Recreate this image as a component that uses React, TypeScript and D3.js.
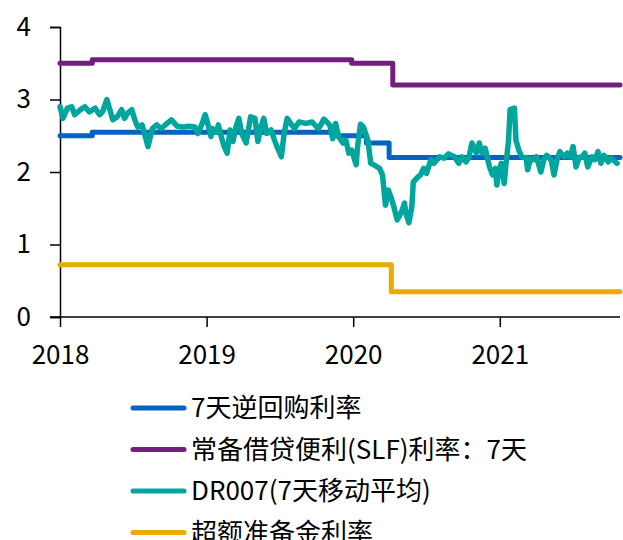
import React, { useEffect, useRef } from 'react'
import * as d3 from 'd3'

// 政策利率走廊与DR007
const W = 623
const H = 540

// 时间用小数年份表示
const reverseRepo7d: [number, number][] = [
  [2018.0, 2.5], [2018.22, 2.55], [2019.88, 2.5], [2020.09, 2.4], [2020.245, 2.2], [2021.82, 2.2],
]
const slf7d: [number, number][] = [
  [2018.0, 3.5], [2018.22, 3.55], [2019.99, 3.5], [2020.27, 3.2], [2021.82, 3.2],
]
const excessReserve: [number, number][] = [
  [2018.0, 0.72], [2020.26, 0.35], [2021.82, 0.35],
]
const dr007: [number, number][] = [
  [2018.0, 2.9], [2018.02, 2.74], [2018.05, 2.88], [2018.08, 2.9], [2018.1, 2.79], [2018.14, 2.86],
  [2018.17, 2.9], [2018.2, 2.83], [2018.24, 2.88], [2018.27, 2.79], [2018.29, 2.83], [2018.32, 3.0],
  [2018.34, 2.86], [2018.36, 2.72], [2018.39, 2.76], [2018.42, 2.86], [2018.44, 2.74], [2018.46, 2.81],
  [2018.49, 2.86], [2018.51, 2.72], [2018.53, 2.62], [2018.56, 2.65], [2018.6, 2.35], [2018.63, 2.6],
  [2018.66, 2.65], [2018.69, 2.6], [2018.73, 2.67], [2018.76, 2.72], [2018.8, 2.63], [2018.84, 2.62],
  [2018.88, 2.63], [2018.92, 2.62], [2018.94, 2.53], [2018.97, 2.67], [2018.99, 2.79], [2019.01, 2.65],
  [2019.03, 2.49], [2019.04, 2.6], [2019.07, 2.55], [2019.08, 2.65], [2019.1, 2.49], [2019.12, 2.35],
  [2019.14, 2.26], [2019.16, 2.58], [2019.18, 2.42], [2019.2, 2.62], [2019.22, 2.74], [2019.24, 2.53],
  [2019.27, 2.4], [2019.3, 2.76], [2019.33, 2.74], [2019.35, 2.42], [2019.37, 2.62], [2019.39, 2.74],
  [2019.41, 2.53], [2019.44, 2.58], [2019.46, 2.46], [2019.48, 2.35], [2019.51, 2.21], [2019.53, 2.55],
  [2019.55, 2.74], [2019.58, 2.65], [2019.6, 2.6], [2019.63, 2.69], [2019.68, 2.67], [2019.72, 2.69],
  [2019.76, 2.6], [2019.77, 2.62], [2019.8, 2.73], [2019.84, 2.65], [2019.86, 2.46], [2019.88, 2.67],
  [2019.9, 2.49], [2019.93, 2.4], [2019.95, 2.44], [2019.97, 2.26], [2019.99, 2.3], [2020.02, 2.1],
  [2020.03, 2.35], [2020.05, 2.66], [2020.07, 2.62], [2020.1, 2.44], [2020.12, 2.12], [2020.14, 2.1],
  [2020.18, 2.05], [2020.2, 1.96], [2020.22, 1.54], [2020.24, 1.75], [2020.26, 1.64], [2020.28, 1.5],
  [2020.3, 1.34], [2020.33, 1.45], [2020.35, 1.57], [2020.36, 1.43], [2020.38, 1.3], [2020.4, 1.52],
  [2020.41, 1.86], [2020.44, 1.93], [2020.46, 1.96], [2020.48, 2.05], [2020.5, 1.98], [2020.53, 2.17],
  [2020.55, 2.12], [2020.59, 2.21], [2020.62, 2.19], [2020.65, 2.25], [2020.69, 2.21], [2020.72, 2.12],
  [2020.74, 2.21], [2020.77, 2.14], [2020.79, 2.21], [2020.81, 2.4], [2020.84, 2.26], [2020.86, 2.4],
  [2020.88, 2.26], [2020.9, 2.33], [2020.93, 2.07], [2020.95, 1.96], [2020.97, 2.05], [2020.98, 1.82],
  [2020.99, 1.98], [2021.01, 2.12], [2021.03, 1.84], [2021.04, 2.07], [2021.06, 2.44], [2021.07, 2.86],
  [2021.1, 2.88], [2021.11, 2.44], [2021.13, 2.3], [2021.15, 2.21], [2021.18, 2.19], [2021.19, 2.03],
  [2021.21, 2.19], [2021.23, 2.17], [2021.25, 2.21], [2021.28, 2.0], [2021.3, 2.17], [2021.32, 2.23],
  [2021.35, 2.17], [2021.37, 1.96], [2021.39, 2.17], [2021.41, 2.28], [2021.44, 2.21], [2021.46, 2.26],
  [2021.48, 2.21], [2021.5, 2.35], [2021.52, 2.07], [2021.54, 2.19], [2021.56, 2.21], [2021.58, 2.26],
  [2021.6, 2.07], [2021.63, 2.21], [2021.65, 2.17], [2021.67, 2.28], [2021.69, 2.12], [2021.71, 2.23],
  [2021.74, 2.14], [2021.76, 2.19], [2021.8, 2.12],
]

const yTicks = [0, 1, 2, 3, 4]
const xTicks = [2018, 2019, 2020, 2021]

const seriesNames = ['7天逆回购利率', '常备借贷便利(SLF)利率：7天', 'DR007(7天移动平均)', '超额准备金利率']
const colors = ['#0563C1', '#70207A', '#00A59E', '#EBAA00']

const App = () => {
  const ref = useRef<SVGSVGElement>(null)

  useEffect(() => {
    const svg = d3.select(ref.current)
    svg.selectAll('*').remove()

    const x = d3.scaleLinear().domain([2018, 2021.82]).range([60, 620])
    const y = d3.scaleLinear().domain([0, 4]).range([317, 27])

    const font = '"Noto Sans CJK SC", "Noto Sans", sans-serif'

    // 坐标轴
    const yAxis = svg.append('g')
      .attr('transform', 'translate(60,0)')
      .call(d3.axisLeft(y).tickValues(yTicks).tickSize(10).tickPadding(19).tickFormat(d3.format('d')))
    const xAxis = svg.append('g')
      .attr('transform', 'translate(0,317)')
      .call(d3.axisBottom(x).tickValues(xTicks).tickSize(10).tickPadding(19).tickFormat(d3.format('d')))

    for (const ax of [yAxis, xAxis]) {
      ax.select('.domain').attr('stroke', '#000').attr('stroke-width', 1.5)
      ax.selectAll('.tick line').attr('stroke', '#000').attr('stroke-width', 1.5)
      ax.selectAll('.tick text')
        .attr('fill', '#000')
        .attr('font-size', 26)
        .attr('font-family', font)
    }
    // x轴左侧延伸到0刻度
    xAxis.select('.domain').attr('d', `M50,0H620`)

    const line = d3.line<[number, number]>()
      .x(d => x(d[0]))
      .y(d => y(d[1]))

    const stepLine = d3.line<[number, number]>()
      .x(d => x(d[0]))
      .y(d => y(d[1]))
      .curve(d3.curveStepAfter)

    const series = [
      { data: reverseRepo7d, gen: stepLine, w: 5 },
      { data: slf7d, gen: stepLine, w: 5 },
      { data: dr007, gen: line, w: 5.5 },
      { data: excessReserve, gen: stepLine, w: 5 },
    ]

    series.forEach((s, i) => {
      svg.append('path')
        .attr('d', s.gen(s.data))
        .attr('fill', 'none')
        .attr('stroke', colors[i])
        .attr('stroke-width', s.w)
        .attr('stroke-linejoin', 'round')
        .attr('stroke-linecap', 'round')
    })

    // 图例
    const legend = svg.append('g')
    seriesNames.forEach((name, i) => {
      const cy = 408 + i * 41.5
      legend.append('line')
        .attr('x1', 133).attr('x2', 184)
        .attr('y1', cy).attr('y2', cy)
        .attr('stroke', colors[i])
        .attr('stroke-width', 5)
        .attr('stroke-linecap', 'round')
      legend.append('text')
        .attr('x', 191)
        .attr('y', cy)
        .attr('dy', '0.36em')
        .attr('font-size', 26)
        .attr('font-family', font)
        .attr('fill', '#000')
        .text(name)
    })
  }, [])

  return (
    <div style={{ position: 'absolute', left: 0, top: 0 }}>
      <svg ref={ref} width={W} height={H} style={{ display: 'block', background: '#fff' }} />
    </div>
  )
}

export default App
